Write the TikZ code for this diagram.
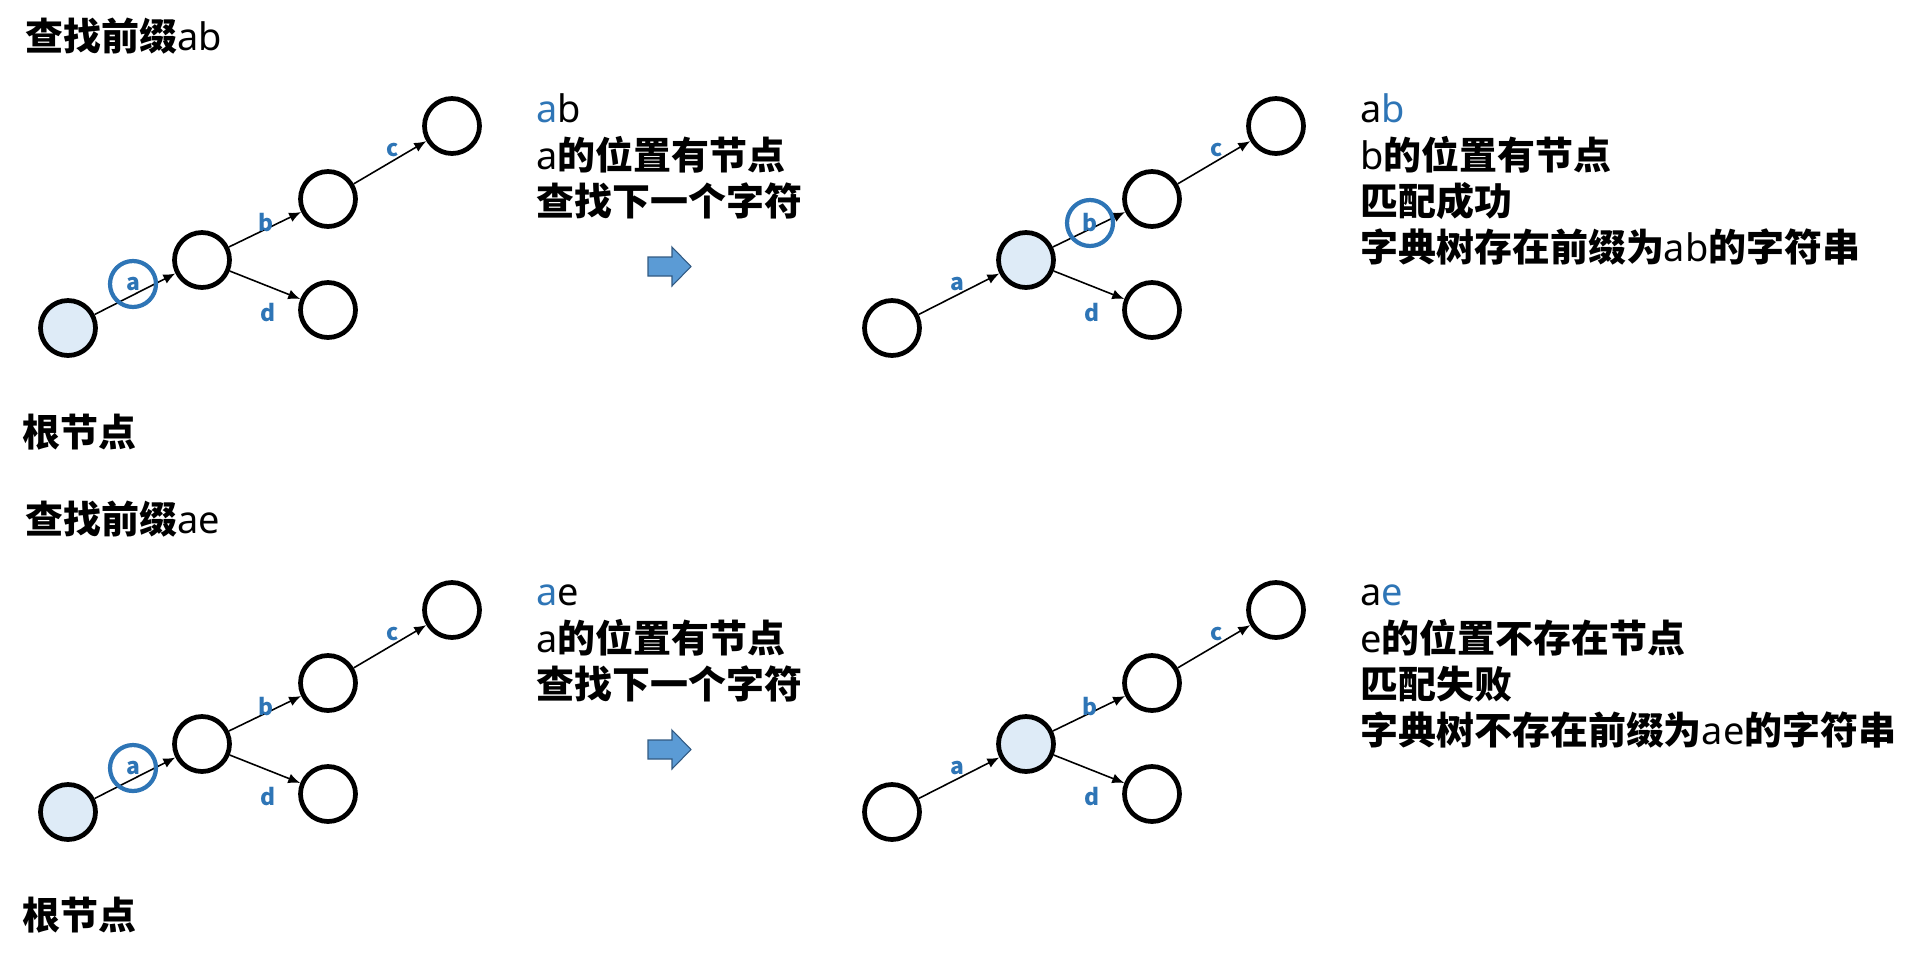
\documentclass[tikz,border=0pt]{standalone}
\usepackage{fontspec}
\setmainfont{Noto Sans}
\newfontfamily\cjk{Noto Sans CJK SC}
\usepackage{tikz,xcolor}
\usetikzlibrary{arrows.meta}

\definecolor{letterblue}{RGB}{46,117,182}
\definecolor{nodefill}{RGB}{222,235,247}
\definecolor{arrowfill}{RGB}{91,155,213}
\definecolor{arrowline}{RGB}{50,90,130}

\newcommand{\zh}[1]{{\cjk\bfseries #1}}

\tikzset{
  trienode/.style={circle, draw=black, line width=2.7pt, minimum size=1.1cm, inner sep=0pt},
  curnode/.style={trienode, fill=nodefill},
  edgelab/.style={text=letterblue, font=\fontsize{13}{13}\selectfont\cjk\bfseries, inner sep=0pt},
  hilite/.style={circle, draw=letterblue, line width=2.4pt, minimum size=0.92cm, inner sep=0pt},
  trans/.style={-{Latex[length=0.24cm,width=0.2cm]}, line width=0.9pt},
  txt/.style={anchor=base west, inner sep=0pt, font=\fontsize{21.6}{26}\selectfont},
}

\begin{document}
\begin{tikzpicture}[x=0.02cm, y=-0.02cm]
\useasboundingbox (0,0) rectangle (1916,961);

% the four tries, root at (68,328)
\foreach \t/\dx/\dy/\rs/\as in {1/0/0/curnode/trienode, 2/824/0/trienode/curnode,
                                3/0/484/curnode/trienode, 4/824/484/trienode/curnode}{
  \begin{scope}[shift={(\dx,\dy)}]
    \node[\rs] (r\t) at (68,328) {};
    \node[\as] (a\t) at (202,260) {};
    \node[trienode] (b\t) at (328,199) {};
    \node[trienode] (c\t) at (452,126) {};
    \node[trienode] (d\t) at (328,310) {};
    \draw[trans] (r\t) -- (a\t);
    \draw[trans] (a\t) -- (b\t);
    \draw[trans] (b\t) -- (c\t);
    \draw[trans] (a\t) -- (d\t);
    \node[edgelab] (la\t) at (133,284) {a};
    \node[edgelab] (lb\t) at (266,223) {b};
    \node[edgelab] (lc\t) at (393,150) {c};
    \node[edgelab] (ld\t) at (268,313) {d};
  \end{scope}
}
% current letter
\node[hilite] (h1) at (la1) {};
\node[hilite] (h2) at (lb2) {};
\node[hilite] (h3) at (la3) {};

% block arrows
\foreach \dy in {0,483}
  \draw[fill=arrowfill, draw=arrowline, line width=0.6pt]
    (648,257+\dy) -- (672,257+\dy) -- (672,247+\dy) -- (691,266.5+\dy)
    -- (672,286+\dy) -- (672,276+\dy) -- (648,276+\dy) -- cycle;

% prefix ab
\node[txt] (title1) at (25,50) {\zh{查找前缀}ab};
\node[txt] (root1) at (22,446) {\zh{根节点}};
\node[txt] (m1) at (536,122) {\textcolor{letterblue}{a}b};
\node[txt] (m2) at (536,169) {a\zh{的位置有节点}};
\node[txt] (m3) at (536,215) {\zh{查找下一个字符}};
\node[txt] (s1) at (1360,122) {a\textcolor{letterblue}{b}};
\node[txt] (s2) at (1360,169) {b\zh{的位置有节点}};
\node[txt] (s3) at (1360,215) {\zh{匹配成功}};
\node[txt] (s4) at (1360,261) {\zh{字典树存在前缀为}ab\zh{的字符串}};

% prefix ae
\node[txt] (title2) at (25,533) {\zh{查找前缀}ae};
\node[txt] (root2) at (22,929) {\zh{根节点}};
\node[txt] (m4) at (536,605) {\textcolor{letterblue}{a}e};
\node[txt] (m5) at (536,652) {a\zh{的位置有节点}};
\node[txt] (m6) at (536,698) {\zh{查找下一个字符}};
\node[txt] (s5) at (1360,605) {a\textcolor{letterblue}{e}};
\node[txt] (s6) at (1360,652) {e\zh{的位置不存在节点}};
\node[txt] (s7) at (1360,698) {\zh{匹配失败}};
\node[txt] (s8) at (1360,744) {\zh{字典树不存在前缀为}ae\zh{的字符串}};

\end{tikzpicture}
\end{document}
